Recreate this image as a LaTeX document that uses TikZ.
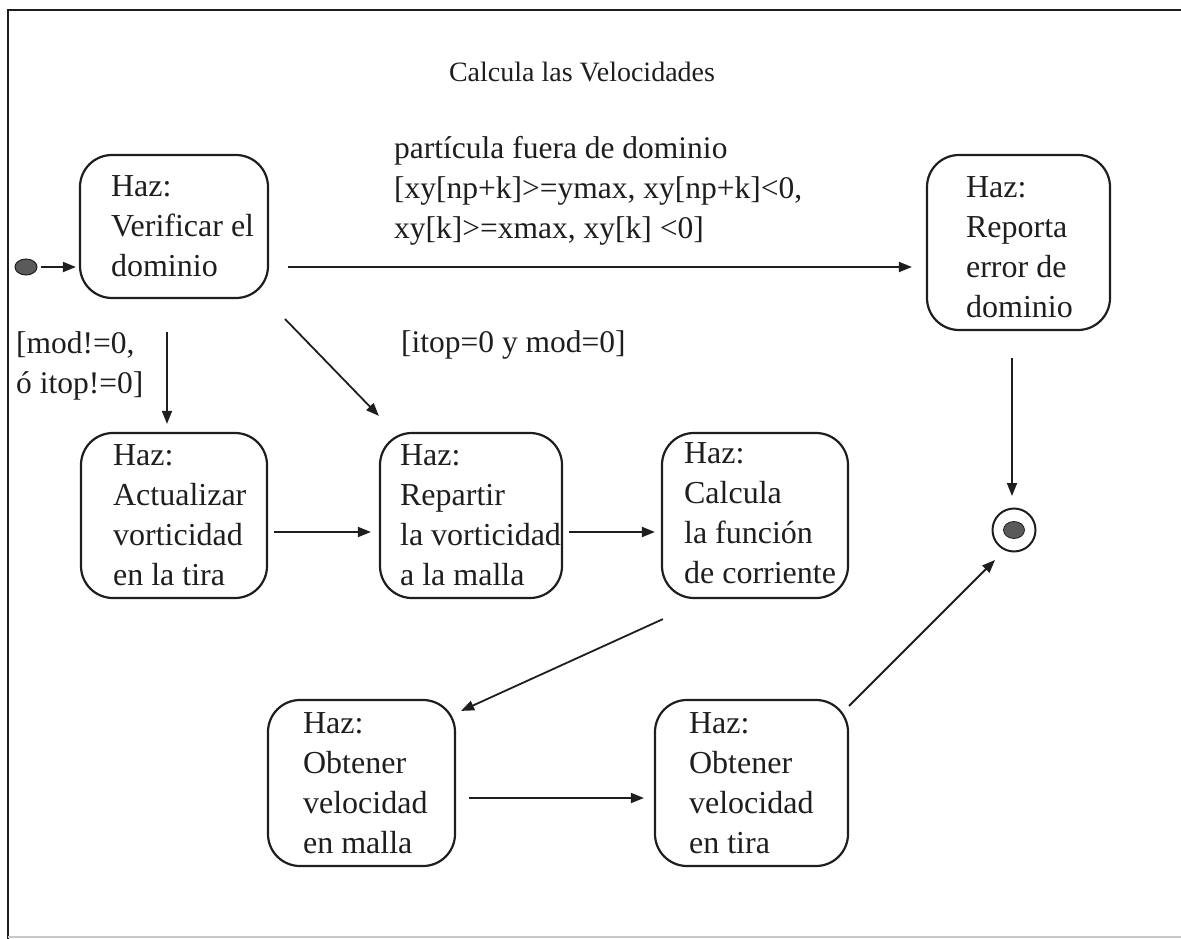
\documentclass[tikz,border=0pt]{standalone}
\usepackage{fontspec}
\setmainfont{Liberation Serif}
\usetikzlibrary{arrows.meta,shapes.geometric}
\definecolor{ink}{HTML}{1E1E1E}
\definecolor{dotgray}{HTML}{5A5A5A}
\definecolor{rule}{HTML}{C8C8C8}
\begin{document}
\begin{tikzpicture}[x=1pt,y=-1pt,
  state/.style={draw=ink, line width=2.2pt, rounded corners=32pt, inner sep=0pt},
  statetext/.style={anchor=west, align=left, inner sep=0pt,
    font=\fontsize{32}{40}\selectfont, text=ink},
  guard/.style={anchor=north west, align=left, inner sep=0pt,
    font=\fontsize{31.5}{40}\selectfont, text=ink},
  flow/.style={draw=ink, line width=1.8pt, -{Triangle[length=13pt,width=10pt]}},
  frame/.style={draw=ink, line width=2pt},
]
\useasboundingbox (0,0) rectangle (1181,939);

% page frame
\draw[frame] (1181,10) -- (8,10) -- (8,939);
\draw[draw=rule, line width=1.5pt] (8,937) -- (1181,937);

% title
\node[anchor=base, inner sep=0pt, font=\fontsize{28}{34}\selectfont, text=ink]
  (title) at (582,82) {Calcula las Velocidades};

% initial and final pseudo-states
\node[ellipse, draw=ink, fill=dotgray, line width=1pt, minimum width=22pt,
  minimum height=16pt, inner sep=0pt] (init) at (26,267) {};
\node[circle, draw=ink, line width=2pt, minimum size=43pt, inner sep=0pt]
  (fin) at (1014,530) {};
\node[ellipse, draw=ink, fill=dotgray, line width=0.8pt, minimum width=21pt,
  minimum height=17pt, inner sep=0pt] (findot) at (fin.center) {};

% activity states
\node[state, minimum width=188pt, minimum height=143pt] (ver)   at (174,226.5) {};
\node[state, minimum width=183pt, minimum height=175pt] (rep)   at (1018.5,242.5) {};
\node[state, minimum width=186pt, minimum height=165pt] (act)   at (174,515.5) {};
\node[state, minimum width=182pt, minimum height=165pt] (rpt)   at (471,515.5) {};
\node[state, minimum width=186pt, minimum height=165pt] (calc)  at (755,515.5) {};
\node[state, minimum width=187pt, minimum height=166pt] (malla) at (361.5,783) {};
\node[state, minimum width=193pt, minimum height=166pt] (tira)  at (751.5,783) {};

\node[statetext] (vert)   at ([xshift=32pt]ver.west)   {Haz:\\Verificar el\\dominio};
\node[statetext] (rept)   at ([shift={(40,5)}]rep.west) {Haz:\\Reporta\\error de\\dominio};
\node[statetext] (actt)   at ([xshift=33pt]act.west)   {Haz:\\Actualizar\\vorticidad\\en la tira};
\node[statetext] (rptt)   at ([xshift=21pt]rpt.west)   {Haz:\\Repartir\\la vorticidad\\a la malla};
\node[statetext] (calct)  at ([shift={(23,-2)}]calc.west) {Haz:\\Calcula\\la función\\de corriente};
\node[statetext] (mallat) at ([xshift=36pt]malla.west) {Haz:\\Obtener\\velocidad\\en malla};
\node[statetext] (tirat)  at ([xshift=35pt]tira.west)  {Haz:\\Obtener\\velocidad\\en tira};

% guards
\node[guard] (gout) at (394,136)
  {partícula fuera de dominio\\{[}xy[np+k]>=ymax, xy[np+k]<0,\\xy[k]>=xmax, xy[k] <0]};
\node[guard] (gmod) at (16,331) {{[}mod!=0,\\ó itop!=0]};
\node[guard] (gtop) at (401,330) {{[}itop=0 y mod=0]};

% transitions
\draw[flow, shorten <=3pt, shorten >=3pt] (init.east) -- (ver.west |- init.east);
\draw[flow, shorten <=19pt, shorten >=14pt] (ver.east |- init) -- (rep.west |- init);
\draw[flow] ([shift={(-7,33)}]ver.south) -- ([shift={(-7,-8)}]act.north);
\draw[flow] ([shift={(16,20)}]ver.south east) -- ([shift={(0,-16)}]rpt.north west);
\draw[flow] ([shift={(6,16.5)}]act.east) -- ([shift={(-8,16.5)}]rpt.west);
\draw[flow] ([shift={(6,16.5)}]rpt.east) -- ([shift={(-6,16.5)}]calc.west);
\draw[flow] ([shift={(2,20)}]calc.south west) -- ([shift={(5,12)}]malla.north east);
\draw[flow] ([shift={(13,15)}]malla.east) -- ([shift={(-10,15)}]tira.west);
\draw[flow] ([shift={(0,7)}]tira.north east) -- ([shift={(-19,30)}]fin.center);
\draw[flow] ([shift={(-6.5,27)}]rep.south) -- ([shift={(-2,-11.5)}]fin.north);
\end{tikzpicture}
\end{document}
